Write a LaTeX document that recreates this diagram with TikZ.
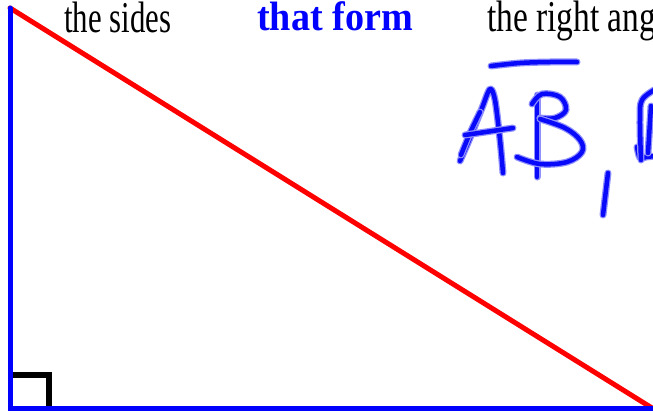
\documentclass[tikz,border=0pt]{standalone}
\usepackage{fontspec}
\setmainfont{Liberation Serif}
\usepackage{graphicx}
\usetikzlibrary{calc}
\definecolor{legcol}{RGB}{0,0,255}
\definecolor{hypcol}{RGB}{255,0,0}
\definecolor{inkcol}{RGB}{10,10,250}
\tikzset{
  leg/.style={draw=legcol,line width=5pt,line cap=round},
  hyp/.style={draw=hypcol,line width=5pt,line cap=round},
  rmark/.style={draw=black,line width=6pt},
  ink/.style={draw=inkcol,line width=4.5pt,line cap=round,line join=round,
              preaction={draw=inkcol!45,line width=7pt,line cap=round,line join=round}},
  words/.style={anchor=base west,inner sep=0pt,font=\fontsize{44}{50}\selectfont},
  keyword/.style={anchor=base west,inner sep=0pt,text=legcol,
                  font=\fontsize{41}{48}\selectfont\bfseries},
}

\begin{document}
\begin{tikzpicture}[x=1pt,y=-1pt]
  \useasboundingbox (0,0) rectangle (653,415);
  \clip (0,0) rectangle (653,415);
  \coordinate (top) at (10,8);
  \coordinate (corner) at (10,408);
  \coordinate (right) at (652,408);
  \draw[rmark] (10,375) -| (49,408);
  \draw[hyp] (top) -- (right);
  \draw[leg] (top) -- (corner) -- (right) -- ++(20,0);
  \node[words] (sides) at (64,32) {\scalebox{0.7}[1]{the sides}};
  \node[keyword] (form) at (257,30) {\scalebox{0.93}[1]{that form}};
  \node[words] (angle) at (487,31) {\scalebox{0.76}[1]{the right ang}};
  \draw[ink] plot[smooth,tension=.6] coordinates {(491,66) (520,63) (550,62) (577,62)};
  \draw[ink] plot[smooth,tension=.5] coordinates {(460,161) (470,138) (482,108) (490,89) (495,100) (500,140) (503,173)};
  \draw[ink] plot[smooth,tension=.5] coordinates {(480,112) (470,133) (461,155)};
  \draw[ink] (465,135) -- (513,128);
  \draw[ink] (537,95) -- (537,177);
  \draw[ink] plot[smooth,tension=.6] coordinates {(532,104) (542,94) (560,97) (566,110) (555,118) (540,118)};
  \draw[ink] plot[smooth,tension=.6] coordinates {(540,119) (565,128) (580,140) (582,152) (567,162) (540,164) (517,157)};
  \draw[ink] (608,173) -- (603,215);
  \draw[ink] plot[smooth,tension=.6] coordinates {(637,147) (640,158) (646,157) (656,156)};
  \draw[ink] plot[smooth,tension=.6] coordinates {(641,160) (640,120) (642,100) (656,89)};
  \draw[ink] (651,106) -- (648,153);
\end{tikzpicture}
\end{document}
